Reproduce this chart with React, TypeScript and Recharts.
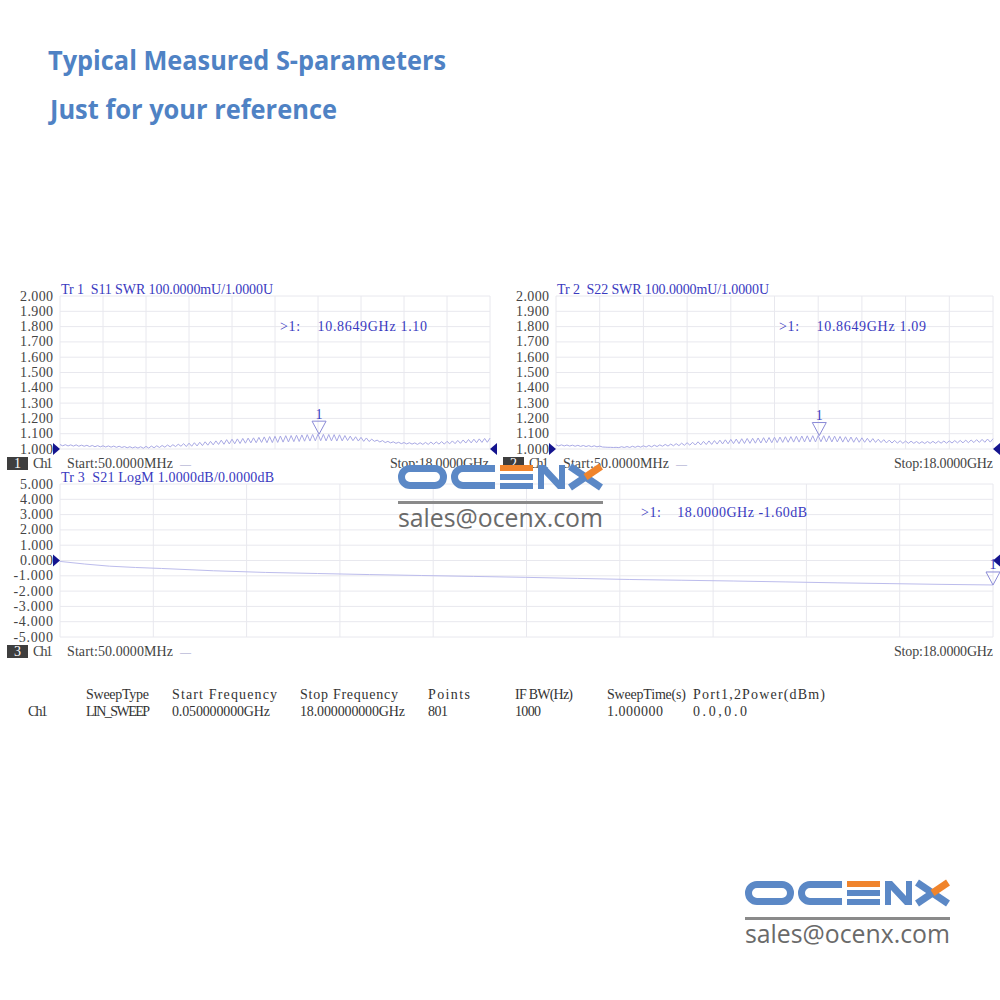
import React from 'react';
import { LineChart, Line, XAxis, YAxis, CartesianGrid, ReferenceDot } from 'recharts';

// sweep (LIN_SWEEP 0.05 - 18 GHz), traces thinned to 161 pts
const START_GHZ = 0.05;
const STOP_GHZ = 18;
const MARKER_GHZ = 10.8649;

const swrTicks = [1.0, 1.1, 1.2, 1.3, 1.4, 1.5, 1.6, 1.7, 1.8, 1.9, 2.0];
const dbTicks = [-5, -4, -3, -2, -1, 0, 1, 2, 3, 4, 5];

const s11Swr = [
  1.029, 1.021, 1.028, 1.020, 1.027, 1.019, 1.027, 1.018, 1.025, 1.018,
  1.024, 1.016, 1.023, 1.015, 1.022, 1.014, 1.021, 1.013, 1.020, 1.012,
  1.019, 1.011, 1.018, 1.010, 1.016, 1.008, 1.015, 1.007, 1.014, 1.006,
  1.015, 1.005, 1.017, 1.006, 1.019, 1.008, 1.021, 1.010, 1.023, 1.012,
  1.026, 1.014, 1.028, 1.016, 1.031, 1.018, 1.035, 1.016, 1.038, 1.018,
  1.041, 1.020, 1.044, 1.022, 1.047, 1.025, 1.050, 1.027, 1.053, 1.030,
  1.058, 1.031, 1.061, 1.033, 1.064, 1.034, 1.066, 1.036, 1.069, 1.038,
  1.071, 1.040, 1.073, 1.041, 1.076, 1.043, 1.079, 1.041, 1.081, 1.042,
  1.083, 1.043, 1.085, 1.045, 1.087, 1.046, 1.088, 1.048, 1.090, 1.049,
  1.092, 1.051, 1.094, 1.052, 1.095, 1.053, 1.097, 1.054, 1.096, 1.053,
  1.095, 1.053, 1.094, 1.052, 1.093, 1.053, 1.088, 1.055, 1.084, 1.054,
  1.080, 1.052, 1.076, 1.050, 1.072, 1.049, 1.064, 1.050, 1.058, 1.046,
  1.055, 1.042, 1.050, 1.040, 1.047, 1.037, 1.044, 1.035, 1.042, 1.033,
  1.041, 1.032, 1.040, 1.030, 1.041, 1.030, 1.043, 1.030, 1.045, 1.031,
  1.046, 1.032, 1.048, 1.032, 1.050, 1.034, 1.053, 1.035, 1.056, 1.037,
  1.059, 1.039, 1.062, 1.040, 1.064, 1.041, 1.066, 1.043, 1.069, 1.044,
  1.071,
];

const s22Swr = [
  1.028, 1.020, 1.027, 1.020, 1.026, 1.019, 1.025, 1.018, 1.024, 1.017,
  1.023, 1.016, 1.022, 1.015, 1.021, 1.014, 1.019, 1.013, 1.012, 1.011,
  1.011, 1.010, 1.011, 1.009, 1.015, 1.010, 1.016, 1.010, 1.018, 1.011,
  1.019, 1.012, 1.021, 1.013, 1.023, 1.014, 1.025, 1.016, 1.027, 1.018,
  1.030, 1.019, 1.032, 1.021, 1.035, 1.022, 1.038, 1.024, 1.041, 1.025,
  1.044, 1.026, 1.047, 1.027, 1.050, 1.029, 1.053, 1.030, 1.055, 1.032,
  1.058, 1.033, 1.060, 1.034, 1.063, 1.035, 1.065, 1.035, 1.067, 1.036,
  1.069, 1.037, 1.070, 1.038, 1.072, 1.039, 1.074, 1.040, 1.075, 1.041,
  1.077, 1.042, 1.078, 1.043, 1.080, 1.044, 1.081, 1.045, 1.083, 1.045,
  1.085, 1.046, 1.086, 1.046, 1.087, 1.046, 1.088, 1.047, 1.087, 1.046,
  1.086, 1.046, 1.084, 1.046, 1.082, 1.045, 1.080, 1.045, 1.078, 1.044,
  1.076, 1.044, 1.073, 1.044, 1.070, 1.044, 1.068, 1.043, 1.064, 1.042,
  1.061, 1.040, 1.058, 1.039, 1.056, 1.038, 1.054, 1.037, 1.052, 1.037,
  1.051, 1.037, 1.049, 1.036, 1.048, 1.036, 1.049, 1.037, 1.050, 1.037,
  1.051, 1.038, 1.052, 1.038, 1.053, 1.039, 1.055, 1.040, 1.056, 1.040,
  1.058, 1.041, 1.059, 1.042, 1.061, 1.043, 1.063, 1.044, 1.065, 1.045,
  1.067,
];

const s21Freq = [0.05, 1, 2, 3, 4, 5, 6, 7, 8, 9, 10, 11, 12, 13, 14, 15, 16, 17, 18];
const s21Db = [-0.06, -0.37, -0.52, -0.67, -0.78, -0.85, -0.92, -0.98, -1.04, -1.1, -1.17, -1.24, -1.29, -1.34, -1.4, -1.46, -1.51, -1.56, -1.6];

const sweepHeaders = ['SweepType', 'Start Frequency', 'Stop Frequency', 'Points', 'IF BW(Hz)', 'SweepTime(s)', 'Port1,2Power(dBm)'];
const sweepValues = ['LIN_SWEEP', '0.050000000GHz', '18.000000000GHz', '801', '1000', '1.000000', '0.0,0.0'];

const toSweep = (vals: number[]) =>
  vals.map((v, i) => ({ f: START_GHZ + (i * (STOP_GHZ - START_GHZ)) / (vals.length - 1), v }));

const s11Data = toSweep(s11Swr);
const s22Data = toSweep(s22Swr);
const s21Data = s21Freq.map((f, i) => ({ f, v: s21Db[i] }));

const nearest = (data: { f: number; v: number }[], f: number) =>
  data.reduce((a, b) => (Math.abs(b.f - f) < Math.abs(a.f - f) ? b : a));

const SERIF = '"Liberation Serif", "Times New Roman", serif';
const CW = 6.6; // analyser font is fixed pitch
const TRACE_TXT = '#3a3abf';
const GRAY_TXT = '#444';
const GRID = '#e8e8ee';
const LOGO_BLUE = '#5b88c6';
const LOGO_ORANGE = '#f0842c';

const Mono = ({ x, y, children, fill = GRAY_TXT, anchor = 'start', w }: any) => {
  const s = String(children);
  return (
    <text
      x={x}
      y={y}
      fill={fill}
      fontFamily={SERIF}
      fontSize={14}
      textAnchor={anchor}
      dominantBaseline="central"
      textLength={w ?? s.length * CW}
      lengthAdjust="spacing"
      style={{ whiteSpace: 'pre' }}
    >
      {s}
    </text>
  );
};

const AxisTick = ({ x, y, payload }: any) => (
  <Mono x={x} y={y} anchor="end">{Number(payload.value).toFixed(3)}</Mono>
);

const levelArrow = (side: 'left' | 'right') => (props: any) => {
  const { cx, cy } = props;
  const d = side === 'left' ? -7 : 7;
  return <polygon points={`${cx + d},${cy - 6} ${cx},${cy} ${cx + d},${cy + 6}`} fill="#14148e" />;
};

const markerFlag = (props: any) => {
  const { cx, cy } = props;
  return (
    <g>
      <polygon points={`${cx - 7},${cy - 13} ${cx + 7},${cy - 13} ${cx},${cy}`} fill="none" stroke="#8a8ad6" />
      <Mono x={cx} y={cy - 20} fill={TRACE_TXT} anchor="middle">1</Mono>
    </g>
  );
};

const gridX = ({ offset }: any) =>
  Array.from({ length: 11 }, (_, k) => offset.left + (offset.width * k) / 10);

const Panel = ({ left, top, width, rightPad, data, domain, ticks, refLevel, marker, stroke, curve }: any) => (
  <div style={{ position: 'absolute', left, top }}>
    <LineChart width={width} height={190} data={data} margin={{ top: 16, right: rightPad, bottom: 21, left: 0 }}>
      <CartesianGrid stroke={GRID} verticalCoordinatesGenerator={gridX} />
      <XAxis type="number" dataKey="f" domain={[START_GHZ, STOP_GHZ]} hide height={0} />
      <YAxis
        type="number"
        domain={domain}
        ticks={ticks}
        interval={0}
        width={60}
        tickSize={0}
        tickMargin={7}
        axisLine={false}
        tickLine={false}
        tick={<AxisTick />}
        allowDataOverflow
      />
      <Line type={curve} dataKey="v" stroke={stroke} strokeWidth={1} dot={false} isAnimationActive={false} />
      <ReferenceDot x={START_GHZ} y={refLevel} ifOverflow="visible" shape={levelArrow('left')} />
      <ReferenceDot x={STOP_GHZ} y={refLevel} ifOverflow="visible" shape={levelArrow('right')} />
      <ReferenceDot x={marker.f} y={marker.v} ifOverflow="visible" shape={markerFlag} />
    </LineChart>
  </div>
);

const ChannelBar = ({ x, y, n, stopEnd }: any) => (
  <g>
    <rect x={x} y={y - 6.5} width={21} height={13} fill="#3e3e3e" />
    <Mono x={x + 10.5} y={y} fill="#ffffff" anchor="middle">{n}</Mono>
    <Mono x={x + 26} y={y}>Ch1</Mono>
    <Mono x={x + 60} y={y} w={106}>Start:50.0000MHz</Mono>
    <text x={x + 173} y={y} fill="#9a9ac8" fontSize={11} dominantBaseline="central">—</text>
    <Mono x={stopEnd} y={y} anchor="end" w={99}>Stop:18.0000GHz</Mono>
  </g>
);

const Logo = ({ x, y }: any) => (
  <g transform={`translate(${x},${y})`}>
    <rect x={3.5} y={3.5} width={42} height={17} rx={8.5} fill="none" stroke={LOGO_BLUE} strokeWidth={7} />
    <path d="M97,3.5 H65 A8.5,8.5 0 0 0 65,20.5 H97" fill="none" stroke={LOGO_BLUE} strokeWidth={7} />
    <rect x={102} y={0} width={33} height={6} fill={LOGO_ORANGE} />
    <rect x={102} y={9} width={33} height={6} fill={LOGO_BLUE} />
    <rect x={102} y={18} width={33} height={6} fill={LOGO_BLUE} />
    <polygon points="140,24 140,0 147,0 161,15 161,0 167,0 167,24 160,24 146,9 146,24" fill={LOGO_BLUE} />
    <line x1={172} y1={1.5} x2={203} y2={22.5} stroke={LOGO_BLUE} strokeWidth={7} />
    <line x1={172} y1={22.5} x2={187.5} y2={12} stroke={LOGO_BLUE} strokeWidth={7} />
    <line x1={187.5} y1={12} x2={203} y2={1.5} stroke={LOGO_ORANGE} strokeWidth={7} />
    <rect x={0} y={36} width={205} height={3} fill="#8a8a8a" />
    <text x={0} y={62} fontFamily='"Open Sans", sans-serif' fontSize={25} fill="#6a6a6a" textLength={205} lengthAdjust="spacingAndGlyphs">
      sales@ocenx.com
    </text>
  </g>
);

const tableX = [86, 172, 300, 428, 515, 607, 693];
const headerW = [63, 105, 98, 42, 58, 79, 132];
const valueW = [64, 98, 105, 20, 26, 56, 54];

export default function App() {
  return (
    <div style={{ position: 'absolute', left: 0, top: 0, width: 1000, height: 1000, background: '#fff', overflow: 'hidden' }}>
      <Panel left={0} top={280} width={500} rightPad={10} data={s11Data} domain={[1, 2]} ticks={swrTicks}
        refLevel={1} marker={{ f: MARKER_GHZ, v: nearest(s11Data, MARKER_GHZ).v }} stroke="#a8a8e4" curve="linear" />
      <Panel left={496} top={280} width={504} rightPad={7} data={s22Data} domain={[1, 2]} ticks={swrTicks}
        refLevel={1} marker={{ f: MARKER_GHZ, v: nearest(s22Data, MARKER_GHZ).v }} stroke="#a8a8e4" curve="linear" />
      <Panel left={0} top={468} width={1000} rightPad={7} data={s21Data} domain={[-5, 5]} ticks={dbTicks}
        refLevel={0} marker={{ f: STOP_GHZ, v: s21Db[s21Db.length - 1] }} stroke="#bcbcec" curve="monotone" />

      <svg width={1000} height={1000} style={{ position: 'absolute', left: 0, top: 0, pointerEvents: 'none' }}>
        <text x={48} y={70} fontFamily='"Open Sans", sans-serif' fontWeight={700} fontSize={26} fill="#4f82c4" textLength={398} lengthAdjust="spacingAndGlyphs">
          Typical Measured S-parameters
        </text>
        <text x={50} y={119} fontFamily='"Open Sans", sans-serif' fontWeight={700} fontSize={26} fill="#4f82c4" textLength={287} lengthAdjust="spacingAndGlyphs">
          Just for your reference
        </text>

        <Mono x={61} y={289} fill={TRACE_TXT} w={212}>Tr 1  S11 SWR 100.0000mU/1.0000U</Mono>
        <Mono x={557} y={289} fill={TRACE_TXT} w={212}>Tr 2  S22 SWR 100.0000mU/1.0000U</Mono>
        <Mono x={280} y={326} fill={TRACE_TXT} w={147}>{'>1:    10.8649GHz 1.10'}</Mono>
        <Mono x={779} y={326} fill={TRACE_TXT} w={147}>{'>1:    10.8649GHz 1.09'}</Mono>
        <ChannelBar x={7} y={463.5} n="1" stopEnd={489} />
        <ChannelBar x={503} y={463.5} n="2" stopEnd={993} />

        <Mono x={61} y={477} fill={TRACE_TXT} w={213}>Tr 3  S21 LogM 1.0000dB/0.0000dB</Mono>
        <Mono x={641} y={512} fill={TRACE_TXT} w={166}>{'>1:    18.0000GHz -1.60dB'}</Mono>
        <ChannelBar x={7} y={651.5} n="3" stopEnd={993} />

        {sweepHeaders.map((h, i) => (
          <Mono key={h} x={tableX[i]} y={694} fill="#333" w={headerW[i]}>{h}</Mono>
        ))}
        <Mono x={28} y={711} fill="#333">Ch1</Mono>
        {sweepValues.map((v, i) => (
          <Mono key={v} x={tableX[i]} y={711} fill="#333" w={valueW[i]}>{v}</Mono>
        ))}

        <Logo x={398} y={465} />
        <Logo x={745} y={881} />
      </svg>
    </div>
  );
}
